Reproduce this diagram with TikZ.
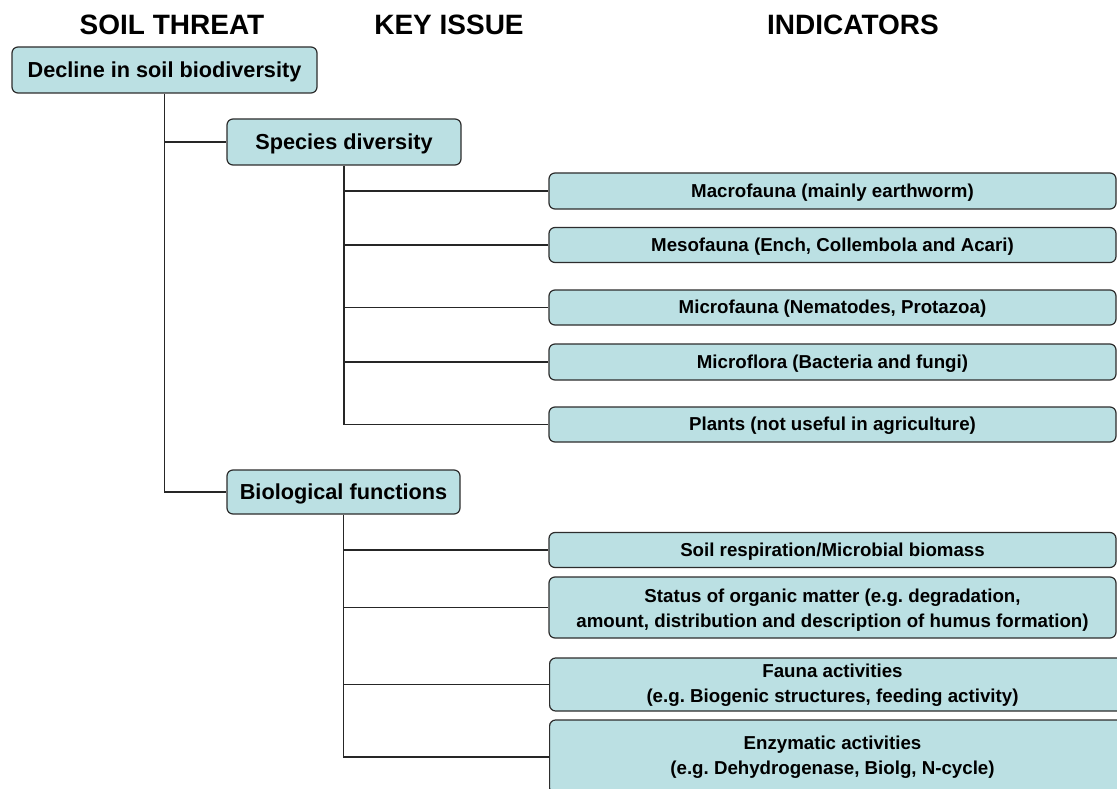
\documentclass[tikz,border=0pt]{standalone}
\usepackage{fontspec}
\setmainfont{Liberation Sans}
\frenchspacing
\definecolor{boxfill}{RGB}{187,224,227}
\definecolor{boxline}{RGB}{45,45,45}
\tikzset{
  head/.style={font=\bfseries\fontsize{28}{32}\selectfont, anchor=base, inner sep=0pt},
  keybox/.style={draw=boxline, fill=boxfill, rounded corners=6pt, line width=1.2pt,
    font=\bfseries\fontsize{21.7}{26}\selectfont, inner sep=0pt, minimum height=46pt,
    text height=19.6pt, text depth=4.6pt},
  indbox/.style={draw=boxline, fill=boxfill, rounded corners=6pt, line width=1.2pt,
    font=\bfseries\fontsize{18.7}{25}\selectfont, align=center, inner sep=0pt,
    minimum width=567pt},
  oneline/.style={text height=16.9pt, text depth=4pt},
  indtext/.style={font=\bfseries\fontsize{18.7}{25}\selectfont, align=center, inner sep=0pt},
  conn/.style={line width=1.4pt, draw=black!85},
}
\begin{document}
\begin{tikzpicture}[x=1pt,y=-1pt]
\useasboundingbox (0,0) rectangle (1117,789);
\clip (0,0) rectangle (1117,789);
\fill[white] (0,0) rectangle (1117,789);

% headers
\node[head] (h1) at (172,35) {SOIL THREAT};
\node[head] (h2) at (449,35) {KEY ISSUE};
\node[head] (h3) at (853,35) {INDICATORS};

% level boxes
\node[keybox, minimum width=305pt] (decl) at (164.5,70) {Decline in soil biodiversity};
\node[keybox, minimum width=234pt] (spec) at (344,142) {Species diversity};
\node[keybox, minimum width=233pt, minimum height=44pt] (bio) at (343.5,492) {Biological functions};

% indicators: species diversity
\node[indbox, oneline, minimum height=36pt] (macro) at (832.5,191) {Macrofauna (mainly earthworm)};
\node[indbox, oneline, minimum height=35pt] (meso) at (832.5,245) {Mesofauna (Ench, Collembola and Acari)};
\node[indbox, oneline, minimum height=35pt] (mfauna) at (832.5,307.5) {Microfauna (Nematodes, Protazoa)};
\node[indbox, oneline, minimum height=36pt] (mflora) at (832.5,362) {Microflora (Bacteria and fungi)};
\node[indbox, oneline, minimum height=35pt] (plants) at (832.5,424.5) {Plants (not useful in agriculture)};

% indicators: biological functions
\node[indbox, oneline, minimum height=35pt] (resp) at (832.5,550) {Soil respiration/Microbial biomass};
\node[indbox, minimum height=61pt] (status) at (832.5,607.5) {};
\node[indtext] (statust) at (832.5,610) {Status of organic matter (e.g. degradation,\\amount, distribution and description of humus formation)};
\node[indbox, minimum width=600pt, minimum height=53pt, anchor=west] (fauna) at (549,684.5) {};
\node[indtext] (faunat) at (832.5,685.5) {Fauna activities\\(e.g. Biogenic structures, feeding activity)};
\node[indbox, minimum width=600pt, minimum height=74pt, anchor=west] (enz) at (549,757) {};
\node[indtext] (enzt) at (832.5,757) {Enzymatic activities\\(e.g. Dehydrogenase, Biolg, N-cycle)};

% connectors
\draw[conn] (decl.south) -- (decl.south |- bio.west) -- (bio.west);
\draw[conn] (decl.south |- spec.west) -- (spec.west);
\draw[conn] (spec.south) -- (spec.south |- plants.west) -- (plants.west);
\foreach \n in {macro,meso,mfauna,mflora}
  \draw[conn] (spec.south |- \n.west) -- (\n.west);
\draw[conn] (bio.south) -- (bio.south |- enz.west) -- (enz.west);
\foreach \n in {resp,status,fauna}
  \draw[conn] (bio.south |- \n.west) -- (\n.west);
\end{tikzpicture}
\end{document}
